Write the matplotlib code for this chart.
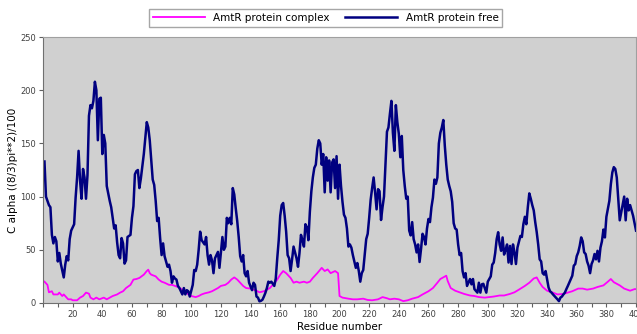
import matplotlib
matplotlib.use("Agg")
import matplotlib.pyplot as plt
from matplotlib.ticker import MultipleLocator

# C-alpha B-factor profile per residue
free_res = [1, 2, 4, 5, 6, 7, 8, 9, 10, 11, 12, 14, 15, 16, 17, 18, 19, 21, 22, 23,
            24, 25, 26, 27, 28, 29, 30, 31, 32, 33, 34, 35, 36, 37, 38, 39, 40, 41, 42, 43,
            45, 46, 47, 48, 49, 50, 51, 52, 53, 54, 55, 56, 57, 59, 60, 61, 62, 63, 64, 65,
            66, 68, 70, 71, 72, 74, 75, 76, 77, 78, 79, 80, 81, 82, 84, 85, 86, 87, 88, 89,
            90, 91, 92, 93, 94, 95, 96, 97, 98, 99, 101, 102, 103, 104, 105, 106, 107, 109, 110, 111,
            112, 113, 114, 115, 116, 118, 119, 120, 121, 122, 123, 124, 125, 126, 127, 128, 129, 130, 131, 132,
            133, 134, 135, 136, 137, 138, 139, 141, 142, 143, 144, 145, 146, 147, 148, 149, 150, 151, 152, 153,
            154, 156, 157, 158, 159, 160, 161, 162, 163, 164, 165, 166, 167, 168, 169, 171, 172, 173, 174, 175,
            176, 177, 178, 179, 180, 181, 182, 183, 184, 185, 186, 187, 188, 189, 190, 191, 192, 193, 194, 195,
            196, 197, 198, 199, 200, 201, 202, 203, 204, 205, 206, 207, 208, 209, 210, 211, 212, 213, 214, 215,
            216, 217, 218, 219, 220, 221, 222, 223, 224, 225, 226, 227, 228, 229, 230, 231, 232, 233, 234, 235,
            236, 237, 238, 239, 240, 241, 242, 243, 244, 245, 246, 247, 248, 249, 250, 251, 252, 253, 254, 255,
            256, 257, 258, 259, 260, 261, 262, 263, 264, 265, 266, 267, 268, 269, 270, 271, 272, 273, 274, 275,
            276, 277, 278, 279, 280, 281, 282, 283, 284, 285, 286, 288, 289, 290, 291, 293, 294, 295, 296, 297,
            299, 300, 302, 303, 304, 305, 306, 307, 308, 309, 310, 311, 312, 313, 314, 315, 316, 317, 318, 319,
            320, 322, 323, 324, 325, 326, 327, 328, 329, 330, 331, 332, 333, 334, 335, 336, 337, 338, 339, 340,
            341, 342, 343, 344, 345, 346, 347, 348, 349, 350, 351, 352, 353, 354, 356, 357, 358, 359, 360, 361,
            362, 363, 364, 365, 366, 367, 368, 369, 370, 371, 372, 373, 374, 375, 376, 377, 378, 379, 380, 382,
            383, 384, 385, 386, 387, 388, 389, 390, 391, 392, 393, 394, 395, 396, 397, 398, 399, 400]
free_val = [133, 100, 92, 90, 64, 56, 62, 58, 39, 47, 37, 24, 36, 44, 40, 60, 68, 74, 99, 118,
            143, 115, 98, 126, 118, 98, 120, 176, 186, 183, 190, 208, 200, 153, 192, 193, 140, 158, 150, 110,
            96, 90, 80, 70, 73, 57, 45, 42, 61, 56, 37, 40, 62, 64, 80, 91, 121, 124, 125, 108,
            117, 140, 170, 165, 153, 116, 111, 96, 77, 80, 61, 45, 56, 44, 34, 36, 30, 19, 25, 23,
            22, 16, 14, 11, 8, 14, 8, 12, 11, 6, 17, 31, 30, 36, 50, 67, 59, 55, 62, 45,
            36, 45, 40, 28, 42, 48, 33, 47, 62, 50, 53, 80, 75, 80, 74, 108, 102, 89, 77, 62,
            44, 39, 45, 28, 25, 30, 19, 12, 19, 17, 6, 5, 1.5, 2, 3, 6, 9.5, 14, 20, 19,
            20, 16, 23, 42, 59, 82, 92, 94, 82, 67, 45, 42, 30, 41, 53, 42, 34, 47, 64, 59,
            53, 74, 71, 59, 86, 105, 118, 127, 130, 145, 153, 150, 130, 140, 104, 137, 115, 134, 104, 132,
            135, 108, 138, 98, 130, 110, 95, 83, 80, 70, 53, 55, 52, 45, 39, 33, 37.5, 30, 20, 28,
            31, 46, 60, 65, 80, 97, 108, 118, 104, 88, 107, 105, 78, 90, 100, 130, 161, 165, 178, 190,
            160, 143, 186, 170, 159, 137, 157, 125, 110, 98, 100, 68, 63.5, 76, 60, 55, 47.5, 55, 38.5, 51,
            65, 62, 55, 70, 79, 76, 90, 99, 116, 112, 118, 150, 160, 165, 172, 148, 130, 116, 110, 105,
            95, 75, 70, 69, 55, 45, 47, 30, 24, 28, 16, 22.5, 17.5, 22.5, 13, 9.7, 19, 9.7, 17.5, 18,
            9.7, 20, 25, 36, 38, 47, 60, 66.5, 55, 49, 61.6, 45.5, 50, 55, 38, 53.6, 36.6, 55, 47.6, 36.6,
            52, 63, 62, 74, 81, 74, 90, 103, 98, 92, 87, 76, 66.6, 55, 41, 39, 28, 26.6, 30, 22.5,
            14.5, 11, 9.7, 8, 6.5, 5, 3.4, 1.7, 5, 6, 8, 9.7, 13, 16, 22.5, 25.6, 35, 36.6, 44, 47.6,
            53.6, 61.6, 58, 47.6, 46, 39, 35, 28, 36.6, 40, 46, 41, 49, 39, 52, 58, 69, 61.6, 81, 96,
            111.6, 122.7, 127.7, 126, 118, 98, 77.7, 85, 92, 100, 77.7, 98, 87, 92, 87, 82, 75, 68]

complex_res = [1, 3, 4, 6, 7, 10, 11, 13, 14, 16, 17, 19, 20, 23, 25, 27, 29, 31, 32, 34,
               36, 38, 41, 43, 45, 47, 50, 52, 54, 56, 59, 61, 63, 65, 68, 70, 71, 72, 73, 76,
               78, 80, 82, 85, 87, 89, 91, 94, 96, 98, 100, 103, 105, 107, 109, 112, 114, 116, 118, 120,
               123, 125, 127, 129, 131, 133, 135, 137, 140, 142, 144, 146, 149, 151, 153, 155, 158, 160, 162, 164,
               167, 169, 171, 173, 176, 178, 180, 182, 185, 187, 188, 190, 192, 194, 197, 199, 200, 202, 206, 209,
               212, 216, 219, 222, 226, 229, 232, 234, 237, 240, 243, 246, 249, 253, 256, 260, 263, 266, 268, 270,
               272, 273, 275, 278, 281, 284, 288, 291, 294, 298, 301, 304, 308, 311, 315, 318, 321, 325, 328, 331,
               333, 335, 337, 340, 344, 347, 351, 354, 357, 361, 364, 367, 371, 374, 378, 381, 383, 385, 389, 392,
               396, 399, 400]
complex_val = [20, 17, 10, 11, 8, 8, 9.7, 6.5, 8, 5, 3.4, 3.4, 2.5, 2.5, 5, 6.5, 9.7, 8.7, 5, 3.4,
               5, 3.4, 5, 3.4, 5, 6.5, 8, 9.7, 11, 14, 17, 22, 22.5, 23.5, 26.6, 30, 31.3, 28, 26.6, 25,
               22, 20, 19, 17, 17, 16, 15, 12.5, 11, 8, 6.5, 5.5, 6.5, 8, 9, 10, 11, 12.5, 14, 16,
               17, 19, 22, 24, 22, 19, 16, 14, 13.5, 12.5, 11.5, 10, 11, 12.5, 14, 17, 22, 26.6, 30, 28,
               23.5, 19, 20, 19, 20, 19, 20, 23.5, 28, 31.3, 33, 30, 31.5, 28, 30, 28, 6.5, 5, 4, 3.4,
               3.4, 4, 2.8, 2.5, 3.4, 5.5, 4.4, 3.4, 4, 3.4, 1.7, 2.5, 4, 5.5, 8, 11, 14, 19, 22.5, 24,
               25.6, 20.5, 14, 11.5, 10, 8.5, 7, 6.5, 5.5, 5, 5.5, 6, 7, 7, 8.5, 10, 12.5, 16, 19, 23,
               24, 19, 15, 11.5, 9.7, 8, 8.5, 9.7, 11, 13.5, 13.5, 12.5, 13.5, 15, 16.5, 20, 22.5, 19.5, 16.5, 13.5,
               11.5, 13, 13]

fig = plt.figure(figsize=(6.37, 3.34), dpi=100)
ax = fig.add_axes([0.0675, 0.093, 0.931, 0.796])
ax.set_facecolor("#d0d0d0")

ax.plot(complex_res, complex_val, color="#ff00ff", lw=1.3, label="AmtR protein complex")
ax.plot(free_res, free_val, color="#000080", lw=1.8, label="AmtR protein free")

ax.set_xlim(0, 400)
ax.set_ylim(0, 250)
ax.xaxis.set_major_locator(MultipleLocator(20))
ax.xaxis.set_minor_locator(MultipleLocator(10))
ax.yaxis.set_major_locator(MultipleLocator(50))
ax.tick_params(axis="both", which="both", labelsize=6, length=3, width=0.8,
               color="#606060", labelcolor="#404040", pad=2)
# the 0 label on the x axis is left off; the last one runs past the edge
ax.set_xticklabels([str(int(t)) if t > 0 else "" for t in ax.get_xticks()])

for side in ["left", "bottom"]:
    ax.spines[side].set_color("#707070")
for side in ["top", "right"]:
    ax.spines[side].set_color("#a0a0a0")

ax.set_xlabel("Residue number", fontsize=7.5, labelpad=2)
ax.set_ylabel("C alpha ((8/3)pi**2)/100", fontsize=7.5, labelpad=2)

fig.legend(loc="center", bbox_to_anchor=(0.511, 0.946), ncol=2, fontsize=7.5,
           frameon=True, fancybox=False, edgecolor="#909090", handlelength=5,
           borderpad=0.35, columnspacing=1.5, handletextpad=0.8)

fig.savefig("out.png", dpi=100, facecolor="white")
